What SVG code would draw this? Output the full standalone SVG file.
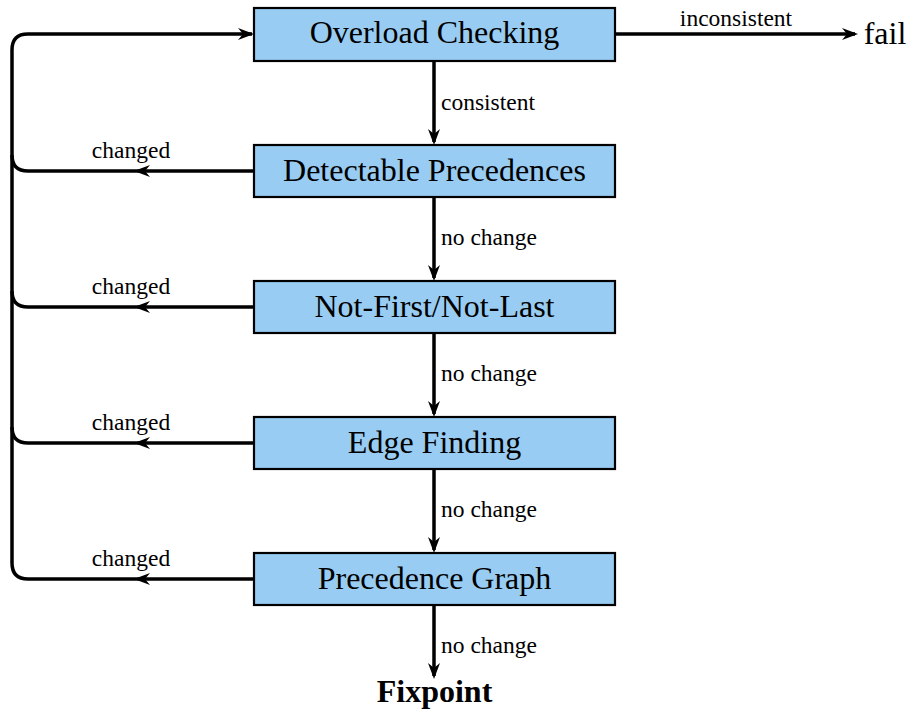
<svg xmlns="http://www.w3.org/2000/svg" width="908" height="711" viewBox="0 0 908 711">
<defs>
<style>
.box{fill:#99CCF2;stroke:#000;stroke-width:2.2}
.nt{font-family:'Liberation Serif','Times New Roman',serif;font-size:32px;text-anchor:middle;fill:#000}
.lb{font-family:'Liberation Serif','Times New Roman',serif;font-size:23.5px;fill:#000}
.ln{fill:none;stroke:#000;stroke-width:3.5}
.ah{fill:#000;stroke:none}
</style>
<path id="ahr" d="M0,0 L-16,-6 L-11,0 L-16,6 Z"/>
</defs>
<rect width="908" height="711" fill="#fff"/>
<g id="connectors">
<path class="ln" d="M252,34 H28 Q12,34 12,50 V563 Q12,579 28,579 H254"/>
<path class="ln" d="M254,171 H28 Q12,171 12,155"/>
<path class="ln" d="M254,307 H28 Q12,307 12,291"/>
<path class="ln" d="M254,443 H28 Q12,443 12,427"/>
<use href="#ahr" class="ah" transform="translate(254,34)"/>
<use href="#ahr" class="ah" transform="translate(134,171) rotate(180)"/>
<use href="#ahr" class="ah" transform="translate(134,307) rotate(180)"/>
<use href="#ahr" class="ah" transform="translate(134,443) rotate(180)"/>
<use href="#ahr" class="ah" transform="translate(134,579) rotate(180)"/>
<text class="lb" x="131" y="158" text-anchor="middle">changed</text>
<text class="lb" x="131" y="294" text-anchor="middle">changed</text>
<text class="lb" x="131" y="430" text-anchor="middle">changed</text>
<text class="lb" x="131" y="566" text-anchor="middle">changed</text>
<path class="ln" d="M615,34 H855"/>
<use href="#ahr" class="ah" transform="translate(858,34)"/>
<text class="lb" x="736" y="26" text-anchor="middle">inconsistent</text>
<path class="ln" d="M434,61 V142"/>
<use href="#ahr" class="ah" transform="translate(434,145) rotate(90)"/>
<text class="lb" x="441" y="110">consistent</text>
<path class="ln" d="M434,197 V278"/>
<use href="#ahr" class="ah" transform="translate(434,281) rotate(90)"/>
<text class="lb" x="441" y="245">no change</text>
<path class="ln" d="M434,333 V414"/>
<use href="#ahr" class="ah" transform="translate(434,417) rotate(90)"/>
<text class="lb" x="441" y="381">no change</text>
<path class="ln" d="M434,469 V550"/>
<use href="#ahr" class="ah" transform="translate(434,553) rotate(90)"/>
<text class="lb" x="441" y="517">no change</text>
<path class="ln" d="M434,605 V676"/>
<use href="#ahr" class="ah" transform="translate(434,679) rotate(90)"/>
<text class="lb" x="441" y="653">no change</text>
</g>
<g id="n1"><rect class="box" x="254" y="8" width="361" height="53"/><text class="nt" x="434.5" y="43">Overload Checking</text></g>
<g id="n2"><rect class="box" x="254" y="145" width="361" height="52"/><text class="nt" x="434.5" y="181">Detectable Precedences</text></g>
<g id="n3"><rect class="box" x="254" y="281" width="361" height="52"/><text class="nt" x="434.5" y="317">Not-First/Not-Last</text></g>
<g id="n4"><rect class="box" x="254" y="417" width="361" height="52"/><text class="nt" x="434.5" y="453">Edge Finding</text></g>
<g id="n5"><rect class="box" x="254" y="553" width="361" height="52"/><text class="nt" x="434.5" y="589">Precedence Graph</text></g>
<g id="fail"><text class="nt" x="885" y="44">fail</text></g>
<g id="fixpoint"><text class="nt" x="434.5" y="702" font-weight="bold">Fixpoint</text></g>
</svg>
